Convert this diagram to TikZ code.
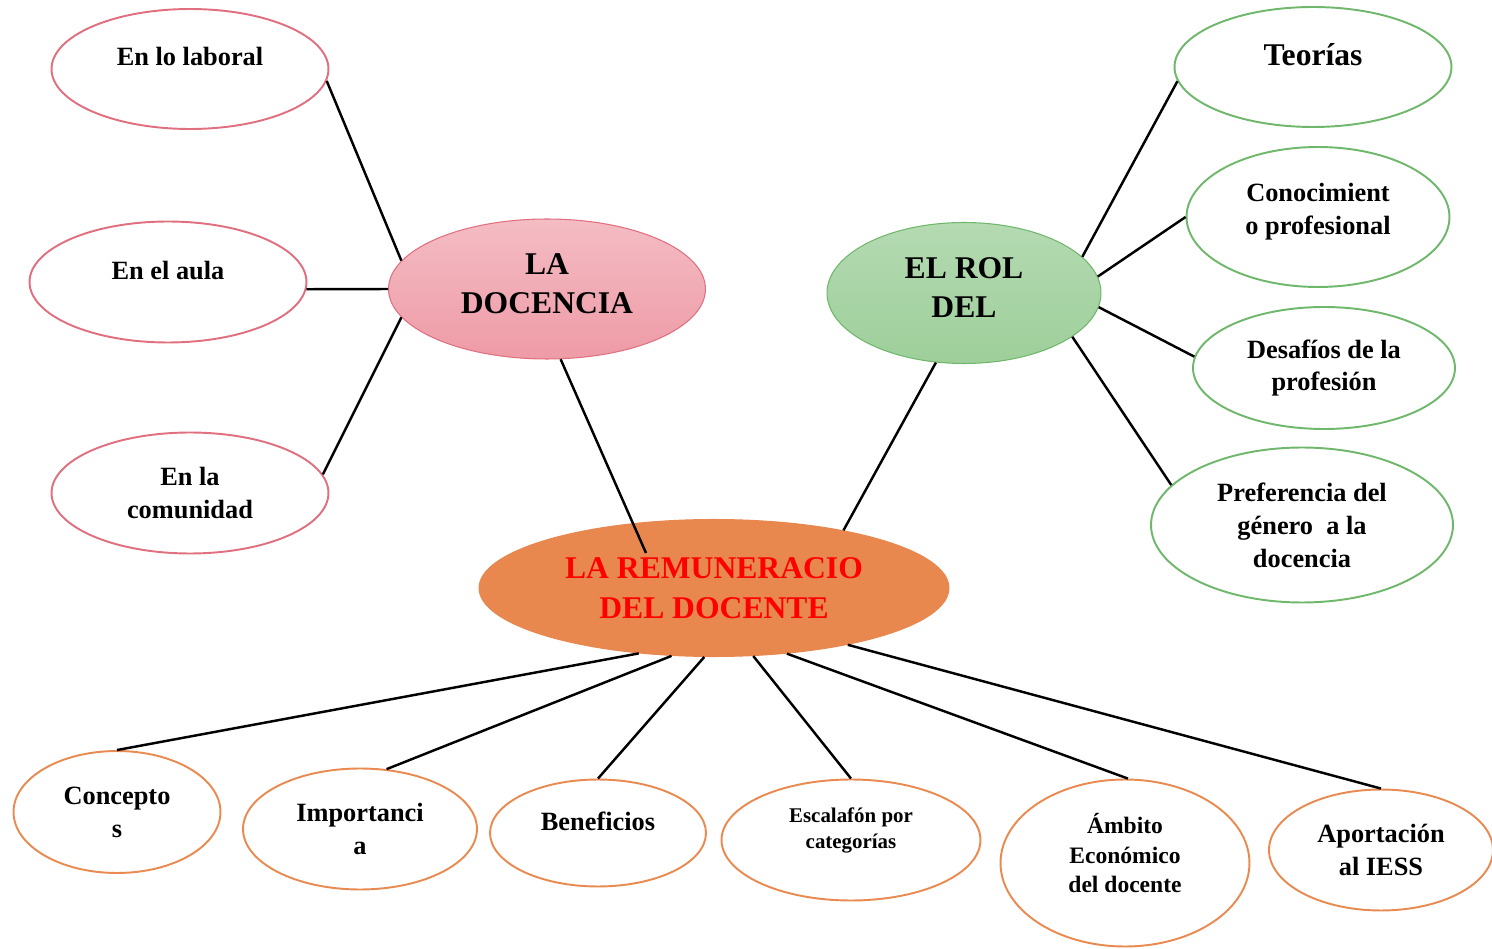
\documentclass[tikz,border=0pt]{standalone}
\usepackage{fontspec}
\setmainfont{Liberation Serif}
\usetikzlibrary{shapes.geometric}

\definecolor{pinkline}{HTML}{E0707F}
\definecolor{pinktop}{HTML}{F4BCC4}
\definecolor{pinkbot}{HTML}{EE9BA6}
\definecolor{greenline}{HTML}{6FB86B}
\definecolor{greentop}{HTML}{B4DAB2}
\definecolor{greenbot}{HTML}{9ECF9A}
\definecolor{orangeline}{HTML}{E98A50}
\definecolor{orangefill}{HTML}{E8884F}

\def\smallfont{\bfseries\fontsize{15}{18.7}\selectfont}
\def\bigfont{\bfseries\fontsize{18}{22.7}\selectfont}
% shift a (multi-line) label up by #1, keeping its box
\newcommand{\lift}[2]{\raisebox{#1}[\height][\depth]{\begin{tabular}{@{}c@{}}#2\end{tabular}}}

\begin{document}
\begin{tikzpicture}[x=0.02cm,y=-0.02cm,line width=1.4pt]
    \tikzstyle{bubble}=[ellipse, draw, line width=1.1pt, fill=white, align=center, inner sep=0pt, font=\smallfont]
    \tikzstyle{pink bubble}=[bubble, draw=pinkline]
    \tikzstyle{green bubble}=[bubble, draw=greenline]
    \tikzstyle{orange bubble}=[bubble, draw=orangeline]
    \tikzstyle{hub}=[ellipse, draw, line width=0.6pt, align=center, inner sep=0pt, font=\bigfont]
    \tikzstyle{link}=[draw=black, line width=1.4pt]

    \useasboundingbox (0,0) rectangle (1492,949);

    % Draw the center node
    \node[hub, draw=orangefill, fill=orangefill, text=red, minimum width=9.4cm, minimum height=2.74cm] (rem) at (714,588) {LA REMUNERACIO\\DEL DOCENTE};

    % Draw the two hubs
    \node[hub, draw=pinkline, top color=pinktop, bottom color=pinkbot, minimum width=6.34cm, minimum height=2.8cm] (doc) at (547,289) {\lift{1.7pt}{LA\\DOCENCIA}};
    \node[hub, draw=greenline, top color=greentop, bottom color=greenbot, minimum width=5.48cm, minimum height=2.82cm] (rol) at (964,293) {\lift{1.7pt}{EL ROL\\DEL}};

    % Draw the left nodes
    \node[pink bubble, minimum width=5.54cm, minimum height=2.4cm] (L-1) at (190,69) {\lift{5.6pt}{En lo laboral}};
    \node[pink bubble, minimum width=5.54cm, minimum height=2.42cm] (L-2) at (168,282) {\lift{5pt}{En el aula}};
    \node[pink bubble, minimum width=5.54cm, minimum height=2.42cm] (L-3) at (190,493) {En la\\comunidad};

    % Draw the right nodes
    \node[green bubble, minimum width=5.54cm, minimum height=2.4cm, font=\bigfont] (R-1) at (1313,67) {\lift{5.5pt}{Teorías}};
    \node[green bubble, minimum width=5.26cm, minimum height=2.8cm] (R-2) at (1318,217) {\lift{3.4pt}{Conocimient\\o profesional}};
    \node[green bubble, minimum width=5.24cm, minimum height=2.44cm] (R-3) at (1324,368) {Desafíos de la\\profesión};
    \node[green bubble, minimum width=6.04cm, minimum height=3.1cm] (R-4) at (1302,525) {\lift{-1.7pt}{Preferencia del\\género~ a la\\docencia}};

    % Draw the bottom nodes
    \node[orange bubble, minimum width=4.14cm, minimum height=2.44cm] (B-1) at (117,812) {Concepto\\s};
    \node[orange bubble, minimum width=4.68cm, minimum height=2.42cm] (B-2) at (360,829) {Importanci\\a};
    \node[orange bubble, minimum width=4.32cm, minimum height=2.14cm] (B-3) at (598,833) {\lift{5pt}{Beneficios}};
    \node[orange bubble, minimum width=5.18cm, minimum height=2.42cm, font=\bfseries\fontsize{11.9}{14.7}\selectfont] (B-4) at (851,840) {\lift{5.5pt}{Escalafón por\\categorías}};
    \node[orange bubble, minimum width=4.98cm, minimum height=3.34cm, font=\bfseries\fontsize{13.4}{17}\selectfont] (B-5) at (1125,863) {\lift{3.4pt}{Ámbito\\Económico\\del docente}};
    \node[orange bubble, minimum width=4.48cm, minimum height=2.42cm] (B-6) at (1381,850) {Aportación\\al IESS};

    % Connect the left nodes with the docencia hub
    \draw[link] (L-1.-5) -- (doc.169);
    \draw[link] (L-2.-3) -- (doc.west);
    \draw[link] (L-3.8) -- (doc.191);

    % Connect the right nodes with the rol hub
    \draw[link] (rol.17) -- (R-1.186);
    \draw[link] (rol.7) -- (R-2.west);
    \draw[link] (rol.-6) -- (R-3.175);
    \draw[link] (rol.-22) -- (R-4.163);

    % Connect the hubs with the center node
    \coordinate (rem-in) at ([shift={(-68,-35)}]rem.center);
    \draw[link] (doc.-79) -- (rem-in);
    \draw[link] (rol.248) -- (rem.24);

    % Connect the center node with the bottom nodes
    \foreach \ang/\dest in {221/B-1.north, 238/B-2.66, 262/B-3.north, 300/B-4.north, 318/B-5.88, 337/B-6.north}
        \draw[link] (rem.\ang) -- (\dest);
\end{tikzpicture}
\end{document}
